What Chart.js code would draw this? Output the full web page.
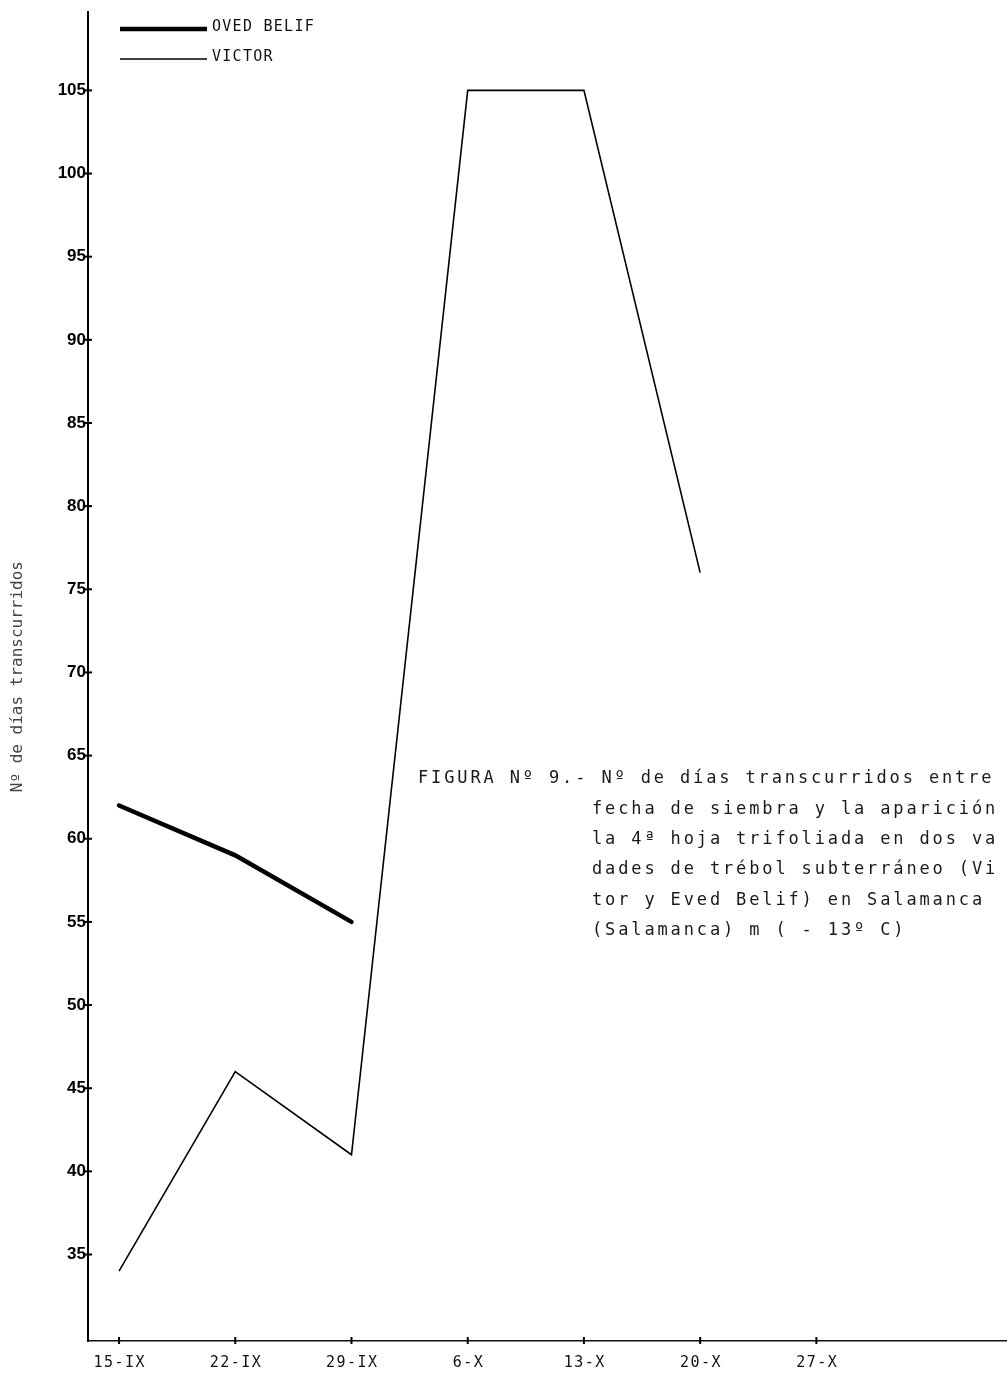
<!DOCTYPE html>
<html>
<head>
<meta charset="utf-8">
<script src="https://cdn.jsdelivr.net/npm/chart.js@4.4.0/dist/chart.umd.min.js"></script>
<style>
  body { margin: 0; background: #fff; }
  canvas { display: block; }
</style>
</head>
<body>
<canvas id="grafica" width="1007" height="1375"></canvas>
<script>
/** datos */
const fechas = ["15-IX", "22-IX", "29-IX", "6-X", "13-X", "20-X", "27-X"];
const ovedBelif = [62, 59, 55];
const victor = [34, 46, 41, 105, 105, 76];
const ticksY = [35, 40, 45, 50, 55, 60, 65, 70, 75, 80, 85, 90, 95, 100, 105];

/** texto de la figura */
const leyenda = ["OVED BELIF", "VICTOR"];
const tituloY = "Nº de días transcurridos";
const pieFigura = [
  "FIGURA Nº 9.- Nº de días transcurridos entre",
  "fecha de siembra y la aparición",
  "la 4ª hoja trifoliada en dos va",
  "dades de trébol subterráneo (Vi",
  "tor y Eved Belif) en Salamanca",
  "(Salamanca) m ( - 13º C)"
];

function puntos(arr) {
  return arr.map((v, i) => ({ x: i, y: v }));
}

// escribe letra por letra, tipo maquina de escribir
function escribir(ctx, texto, x, y, paso) {
  for (let i = 0; i < texto.length; i++) {
    ctx.fillText(texto[i], x + i * paso, y);
  }
}

const marcas = {
  id: "marcas",
  afterDraw(chart) {
    const ctx = chart.ctx;
    const sx = chart.scales.x, sy = chart.scales.y;
    const area = chart.chartArea;
    ctx.save();
    ctx.strokeStyle = "#000";
    ctx.lineWidth = 2;
    // cruces en el eje y
    ticksY.forEach(v => {
      const py = sy.getPixelForValue(v);
      ctx.beginPath();
      ctx.moveTo(area.left - 4, py);
      ctx.lineTo(area.left + 4, py);
      ctx.stroke();
    });
    // cruces y etiquetas en el eje x
    ctx.font = '15px "DejaVu Sans Mono"';
    ctx.fillStyle = "#111";
    ctx.textBaseline = "middle";
    ctx.textAlign = "left";
    fechas.forEach((f, i) => {
      const px = sx.getPixelForValue(i);
      ctx.beginPath();
      ctx.moveTo(px, area.bottom - 4);
      ctx.lineTo(px, area.bottom + 3);
      ctx.stroke();
      const paso = 10.5;
      const ancho = (f.length - 1) * paso + 9;
      escribir(ctx, f, px - ancho / 2, area.bottom + 22, paso);
    });

    // leyenda
    ctx.font = '15px "DejaVu Sans Mono"';
    ctx.textBaseline = "middle";
    chart.data.datasets.forEach((ds, i) => {
      const y = 29 + i * 30;
      ctx.lineWidth = ds.borderWidth;
      ctx.beginPath();
      ctx.moveTo(120, y);
      ctx.lineTo(207, y);
      ctx.stroke();
      escribir(ctx, ds.label, 212, y - 2, 10.3);
    });

    // pie de figura
    ctx.font = '17px "DejaVu Sans Mono"';
    ctx.fillStyle = "#1a1a1a";
    pieFigura.forEach((linea, i) => {
      const x = i === 0 ? 418 : 592;
      escribir(ctx, linea, x, 779 + i * 30.3, 13.1);
    });
    ctx.restore();
  }
};

var ctx = document.getElementById("grafica").getContext("2d");
var grafica = new Chart(ctx, {
  type: "line",
  data: {
    datasets: [{
      label: leyenda[0],
      data: puntos(ovedBelif),
      borderColor: "#000",
      borderWidth: 4.5,
      borderCapStyle: "round",
      pointRadius: 0,
      tension: 0
    }, {
      label: leyenda[1],
      data: puntos(victor),
      borderColor: "#000",
      borderWidth: 1.6,
      pointRadius: 0,
      tension: 0
    }]
  },
  options: {
    responsive: false,
    devicePixelRatio: 1,
    animation: false,
    layout: { padding: { top: 10, right: 0, left: 0, bottom: 0 } },
    plugins: {
      legend: { display: false },
      tooltip: { enabled: false }
    },
    scales: {
      x: {
        type: "linear",
        min: -0.267,
        max: 7.64,
        afterBuildTicks: s => { s.ticks = fechas.map((f, i) => ({ value: i })); },
        afterFit: s => { s.height = 34; },
        ticks: { display: false },
        grid: { display: false },
        border: { display: true, color: "#111", width: 1.5 }
      },
      y: {
        min: 29.8,
        max: 109.7,
        afterBuildTicks: s => { s.ticks = ticksY.map(v => ({ value: v })); },
        afterFit: s => { s.width = 88; },
        ticks: {
          color: "#000",
          padding: 2,
          font: { family: "Liberation Sans", size: 17, weight: "bold" }
        },
        grid: { display: false, drawTicks: false },
        border: { display: true, color: "#000", width: 2 },
        title: {
          display: true,
          text: tituloY,
          color: "#444",
          padding: { top: 8, bottom: 0 },
          font: { family: "DejaVu Sans Mono", size: 16 }
        }
      }
    }
  },
  plugins: [marcas]
});
</script>
</body>
</html>
